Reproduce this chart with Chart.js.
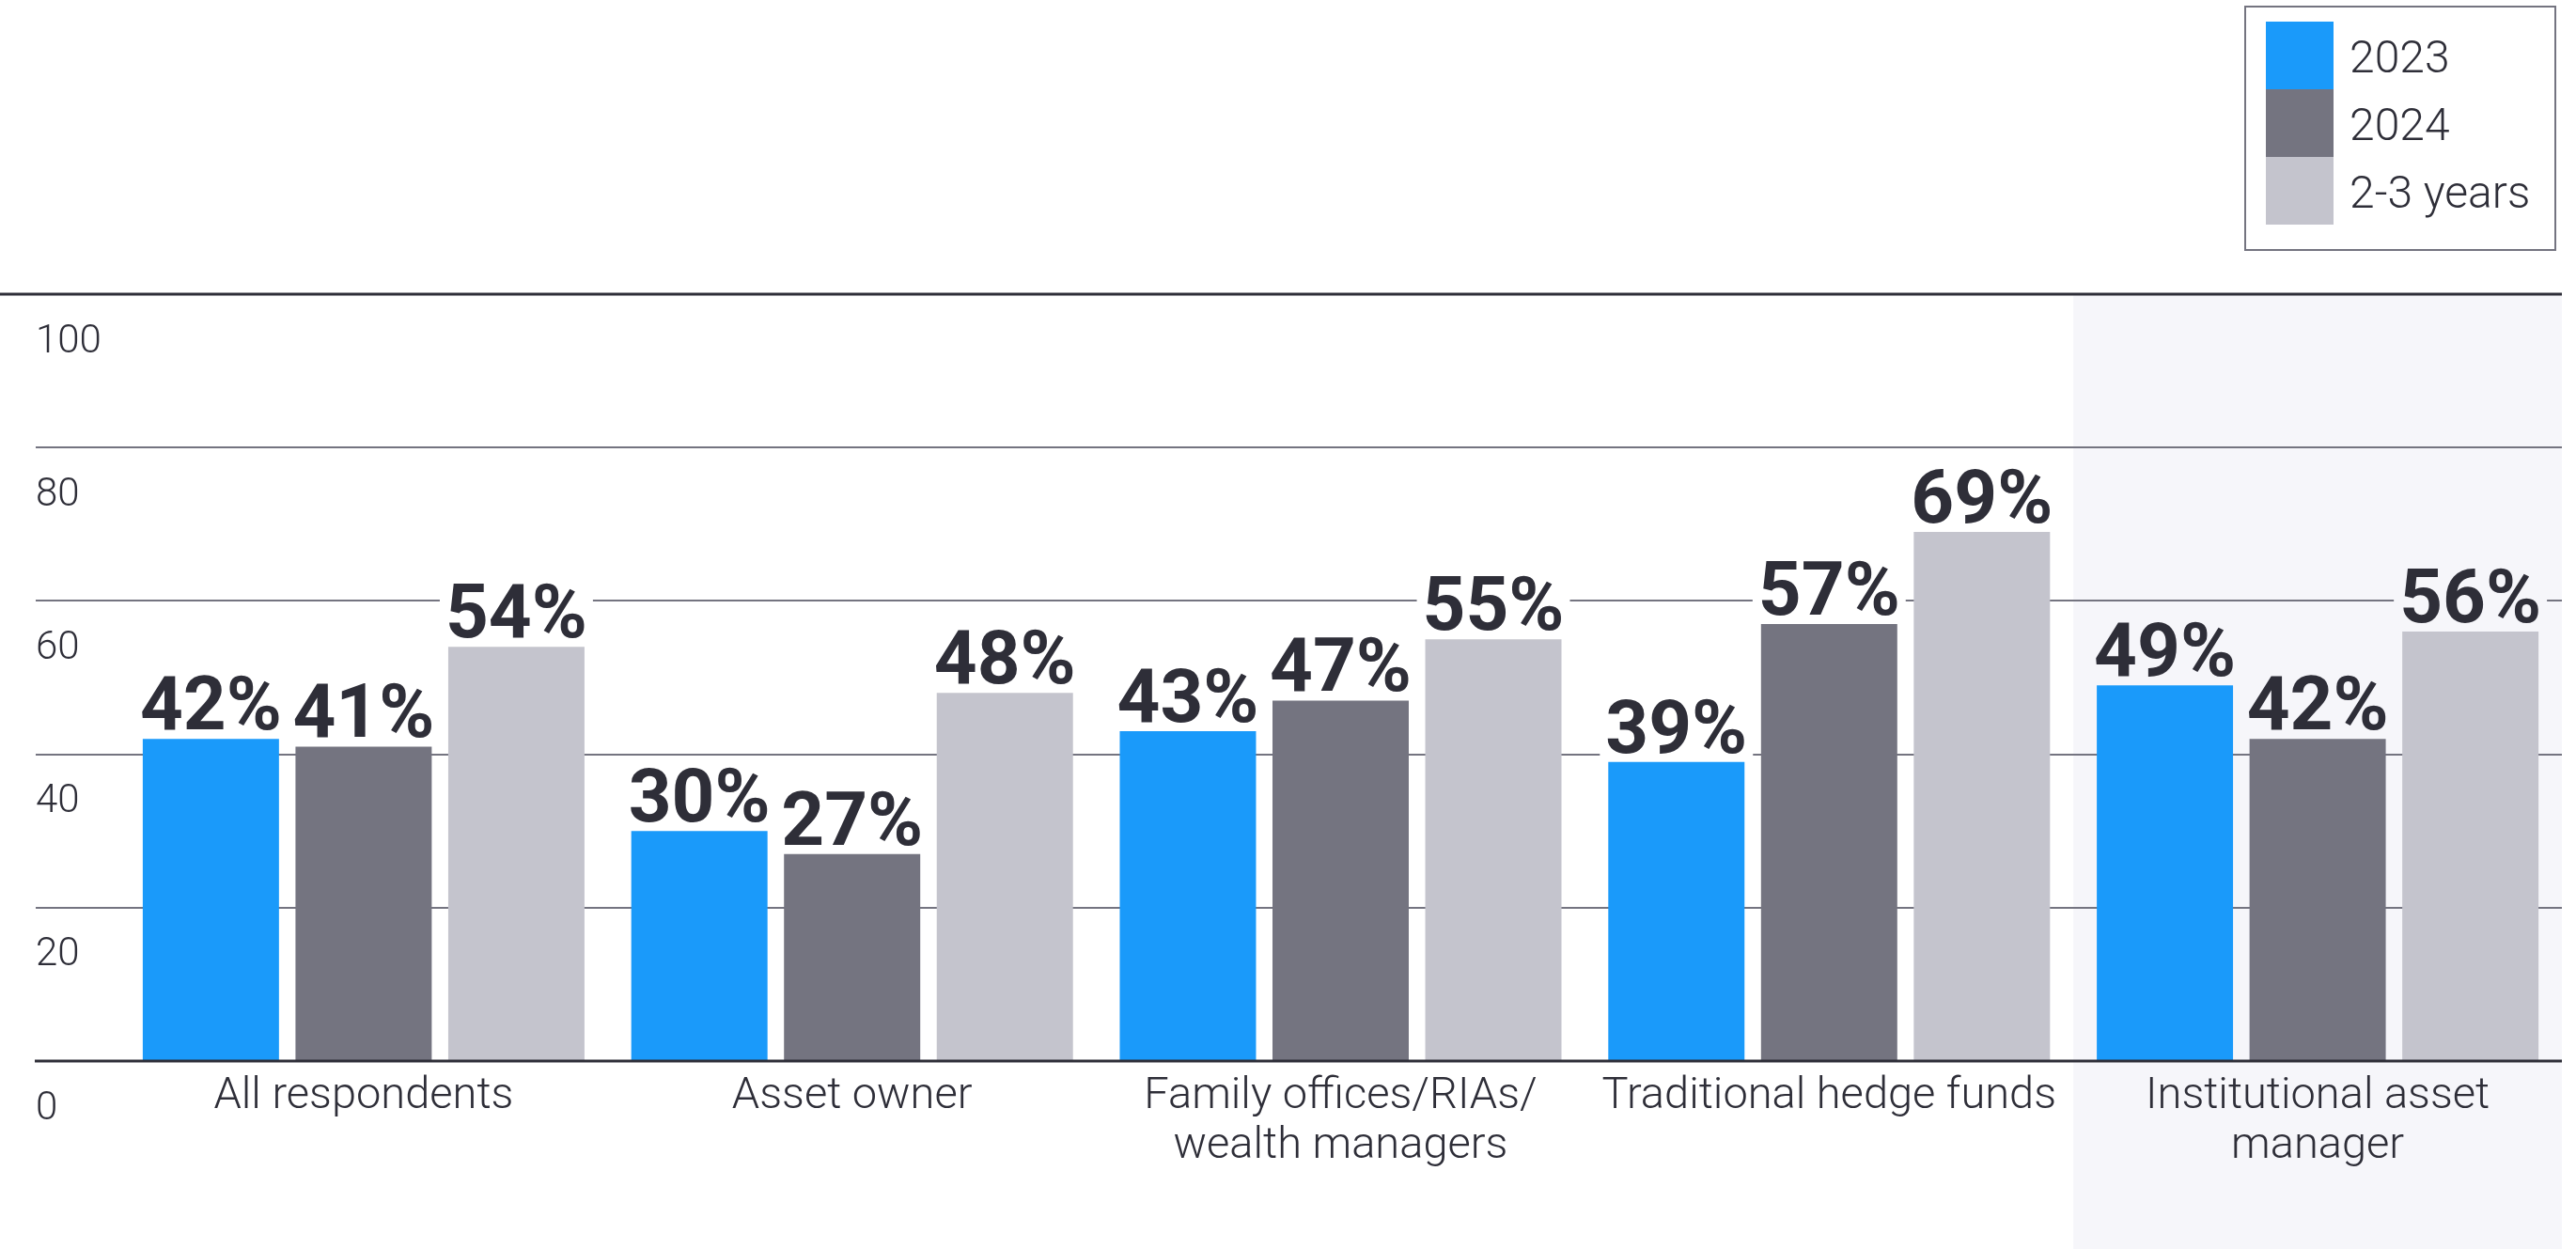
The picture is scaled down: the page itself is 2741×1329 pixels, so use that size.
<!DOCTYPE html>
<html><head><meta charset="utf-8">
<script src="https://cdn.jsdelivr.net/npm/chart.js@4"></script>
<style>html,body{margin:0;padding:0;background:#fff}#wrap{width:2741px;height:1329px}</style>
</head><body><div id="wrap"><canvas id="c" width="2741" height="1329"></canvas></div>
<script>
const categories = ['All respondents', 'Asset owner', ['Family offices/RIAs/', 'wealth managers'], 'Traditional hedge funds', ['Institutional asset', 'manager']];
const seriesNames = ['2023', '2024', '2-3 years'];
const values2023 = [42, 30, 43, 39, 49];
const values2024 = [41, 27, 47, 57, 42];
const values2to3 = [54, 48, 55, 69, 56];
const yTicks = [0, 20, 40, 60, 80, 100];
const highlightIndex = 4;

const colors = ['#1A9AFA', '#747480', '#C4C4CD'];
const TEXT = '#2E2E38';
const SHADE = '#F6F6FA';
const LIGHT = 'Roboto, "Open Sans", sans-serif';

const shadePlugin = {
  id: 'shade',
  beforeDraw(chart) {
    const {ctx, chartArea, scales} = chart;
    const band = (chartArea.right - chartArea.left) / categories.length;
    const x0 = scales.x.getPixelForValue(highlightIndex) - band / 2;
    ctx.save();
    ctx.fillStyle = SHADE;
    ctx.fillRect(x0, chartArea.top, chartArea.right - x0, chart.height - chartArea.top);
    ctx.restore();
  }
};

const linesPlugin = {
  id: 'lines',
  afterDatasetsDraw(chart) {
    const {ctx, chartArea, scales} = chart;
    ctx.save();
    ctx.strokeStyle = TEXT;
    ctx.lineWidth = 3;
    const yTop = scales.y.getPixelForValue(100);
    const yBot = scales.y.getPixelForValue(0);
    ctx.beginPath(); ctx.moveTo(0, yTop); ctx.lineTo(chartArea.right, yTop); ctx.stroke();
    ctx.beginPath(); ctx.moveTo(37, yBot); ctx.lineTo(chartArea.right, yBot); ctx.stroke();
    // value labels
    ctx.font = '700 80px Roboto, sans-serif';
    ctx.textAlign = 'center';
    ctx.textBaseline = 'alphabetic';
    chart.data.datasets.forEach((ds, di) => {
      const meta = chart.getDatasetMeta(di);
      meta.data.forEach((bar, i) => {
        const txt = ds.data[i] + '%';
        const w = ctx.measureText(txt).width;
        const base = bar.y - 10;
        ctx.fillStyle = i === highlightIndex ? SHADE : '#FFFFFF';
        ctx.fillRect(bar.x - w / 2 - 6, base - 62, w + 12, 66);
        ctx.fillStyle = TEXT;
        ctx.fillText(txt, bar.x, base);
      });
    });
    ctx.restore();
  }
};

const legendPlugin = {
  id: 'boxLegend',
  afterDraw(chart) {
    const ctx = chart.ctx;
    ctx.save();
    ctx.strokeStyle = '#747480';
    ctx.lineWidth = 2;
    ctx.strokeRect(2389, 7, 330, 259);
    ctx.font = '300 48px ' + LIGHT;
    ctx.textAlign = 'left';
    ctx.textBaseline = 'middle';
    chart.data.datasets.forEach((ds, i) => {
      const y = 23 + i * 72;
      ctx.fillStyle = ds.backgroundColor;
      ctx.fillRect(2411, y, 72, 72);
      ctx.fillStyle = TEXT;
      ctx.fillText(ds.label, 2500, y + 42);
    });
    ctx.restore();
  }
};

new Chart(document.getElementById('c'), {
  type: 'bar',
  data: {
    labels: categories,
    datasets: [
      {label: seriesNames[0], data: values2023, backgroundColor: colors[0]},
      {label: seriesNames[1], data: values2024, backgroundColor: colors[1]},
      {label: seriesNames[2], data: values2to3, backgroundColor: colors[2]}
    ]
  },
  options: {
    responsive: false,
    animation: false,
    devicePixelRatio: 1,
    layout: {padding: {left: 38, right: 15, top: 313, bottom: 0}},
    datasets: {bar: {categoryPercentage: 0.938, barPercentage: 0.892, borderWidth: 0}},
    plugins: {legend: {display: false}, tooltip: {enabled: false}},
    scales: {
      x: {
        grid: {display: false},
        border: {display: false},
        afterFit: s => { s.height = 200; },
        ticks: {
          autoSkip: false, maxRotation: 0, minRotation: 0, padding: 4,
          color: TEXT,
          font: {family: LIGHT, size: 47, weight: '300', lineHeight: '53px'}
        }
      },
      y: {
        min: 0, max: 100,
        afterBuildTicks: s => { s.ticks = yTicks.map(v => ({value: v})); },
        afterFit: s => { s.width = 89; },
        border: {display: false},
        grid: {
          drawTicks: true, tickLength: 89, lineWidth: 2,
          color: c => (c.tick && (c.tick.value === 0 || c.tick.value === 100)) ? 'rgba(0,0,0,0)' : '#747480'
        },
        ticks: {
          crossAlign: 'far', labelOffset: 51, color: TEXT,
          font: {family: LIGHT, size: 42, weight: '300'},
          callback: v => String(v)
        }
      }
    }
  },
  plugins: [shadePlugin, linesPlugin, legendPlugin]
});
</script></body></html>
